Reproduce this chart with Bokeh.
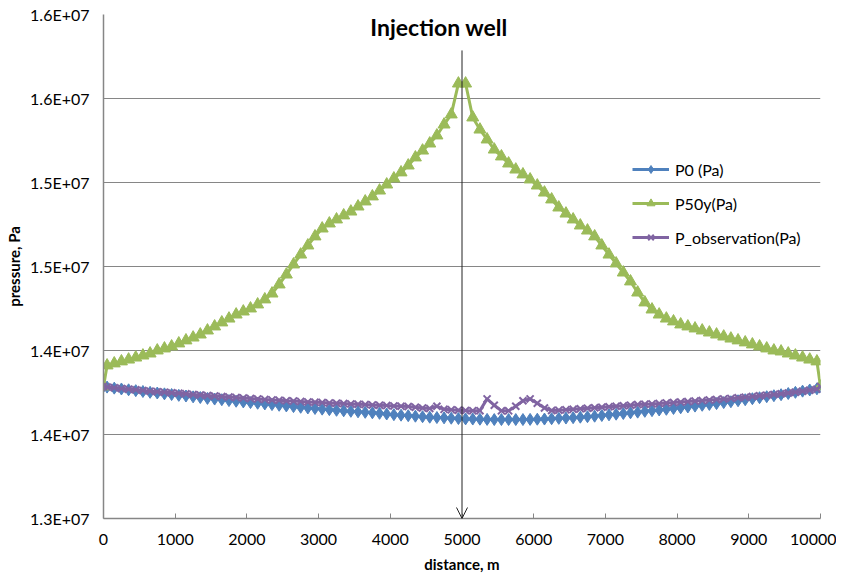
import numpy as np
from bokeh.plotting import figure
from bokeh.models import (ColumnDataSource, Range1d, FixedTicker, Legend,
                          LegendItem, Arrow, OpenHead, Label)
from bokeh.embed import file_html
from bokeh.resources import INLINE

# ---------------- data ----------------
distance = [0, 50, 150, 250, 350, 450, 550, 650, 750, 850, 950,
            1050, 1150, 1250, 1350, 1450, 1550, 1650, 1750, 1850, 1950,
            2050, 2150, 2250, 2350, 2450, 2550, 2650, 2750, 2850, 2950,
            3050, 3150, 3250, 3350, 3450, 3550, 3650, 3750, 3850, 3950,
            4050, 4150, 4250, 4350, 4450, 4550, 4650, 4750, 4850, 4950,
            5050, 5150, 5250, 5350, 5450, 5550, 5650, 5750, 5850, 5950,
            6050, 6150, 6250, 6350, 6450, 6550, 6650, 6750, 6850, 6950,
            7050, 7150, 7250, 7350, 7450, 7550, 7650, 7750, 7850, 7950,
            8050, 8150, 8250, 8350, 8450, 8550, 8650, 8750, 8850, 8950,
            9050, 9150, 9250, 9350, 9450, 9550, 9650, 9750, 9850, 9950, 10000]

p0 = [13786000, 13782000, 13776000, 13771000, 13766000, 13761000, 13756000, 13751000, 13747000, 13742000, 13738000,
      13733000, 13729000, 13724000, 13720000, 13715000, 13711000, 13707000, 13702000, 13698000, 13694000,
      13690000, 13686000, 13682000, 13678000, 13674000, 13670000, 13666000, 13662000, 13658000, 13655000,
      13651000, 13648000, 13644000, 13641000, 13638000, 13635000, 13632000, 13629000, 13626000, 13622000,
      13618000, 13615000, 13612000, 13609000, 13606000, 13603000, 13601000, 13599000, 13597000, 13595000,
      13593000, 13592000, 13591000, 13590000, 13589000, 13589000, 13589000, 13589000, 13589000, 13590000,
      13591000, 13592000, 13594000, 13596000, 13598000, 13600000, 13603000, 13606000, 13609000, 13613000,
      13617000, 13621000, 13625000, 13629000, 13633000, 13638000, 13642000, 13646000, 13650000, 13655000,
      13659000, 13664000, 13669000, 13674000, 13679000, 13684000, 13690000, 13695000, 13701000, 13707000,
      13713000, 13719000, 13725000, 13731000, 13737000, 13744000, 13751000, 13758000, 13765000, 13772000, 13786000]

p50y = [13786000, 13911000, 13923000, 13935000, 13946000, 13958000, 13970000, 13982000, 14000000, 14012000, 14024000,
        14042000, 14060000, 14077000, 14095000, 14119000, 14143000, 14167000, 14190000, 14214000, 14232000,
        14250000, 14274000, 14304000, 14339000, 14393000, 14452000, 14512000, 14571000, 14625000, 14679000,
        14726000, 14756000, 14780000, 14804000, 14827000, 14857000, 14887000, 14917000, 14952000, 14988000,
        15024000, 15060000, 15101000, 15149000, 15190000, 15232000, 15280000, 15345000, 15405000, 15589000,
        15589000, 15387000, 15315000, 15256000, 15196000, 15155000, 15113000, 15077000, 15048000, 15018000,
        14982000, 14940000, 14899000, 14851000, 14815000, 14780000, 14744000, 14714000, 14679000, 14625000,
        14571000, 14518000, 14464000, 14411000, 14345000, 14286000, 14244000, 14214000, 14190000, 14173000,
        14155000, 14143000, 14131000, 14119000, 14107000, 14095000, 14083000, 14071000, 14060000, 14048000,
        14036000, 14024000, 14012000, 14000000, 13994000, 13982000, 13970000, 13958000, 13946000, 13935000, 13786000]

p_obs = [13786000, 13783000, 13778000, 13774000, 13770000, 13766000, 13762000, 13758000, 13755000, 13751000, 13748000,
         13745000, 13742000, 13738000, 13735000, 13732000, 13729000, 13726000, 13723000, 13720000, 13717000,
         13714000, 13712000, 13709000, 13706000, 13704000, 13701000, 13699000, 13697000, 13694000, 13692000,
         13690000, 13688000, 13686000, 13684000, 13682000, 13680000, 13678000, 13676000, 13674000, 13672000,
         13670000, 13668000, 13666000, 13662000, 13658000, 13655000, 13668000, 13650000, 13647000, 13645000,
         13643000, 13642000, 13642000, 13712000, 13674000, 13641000, 13641000, 13668000, 13701000, 13712000,
         13686000, 13658000, 13643000, 13645000, 13647000, 13650000, 13653000, 13656000, 13659000, 13662000,
         13665000, 13668000, 13671000, 13674000, 13678000, 13680000, 13682000, 13685000, 13688000, 13690000,
         13693000, 13696000, 13699000, 13702000, 13705000, 13708000, 13712000, 13715000, 13719000, 13722000,
         13726000, 13730000, 13734000, 13738000, 13742000, 13747000, 13752000, 13758000, 13764000, 13770000, 13786000]

series_names = ["P0 (Pa)", "P50y(Pa)", "P_observation(Pa)"]
x_ticks = [0, 1000, 2000, 3000, 4000, 5000, 6000, 7000, 8000, 9000, 10000]
y_ticks = [13000000, 13500000, 14000000, 14500000, 15000000, 15500000, 16000000]
y_tick_labels = ["1.3E+07", "1.4E+07", "1.4E+07", "1.5E+07", "1.5E+07", "1.6E+07", "1.6E+07"]
x_min, x_max = 0, 10000
y_min, y_max = 13000000, 16000000
well_x = 5000
well_arrow_top = 15786000
well_label = "Injection well"
x_title = "distance, m"
y_title = "pressure, Pa"

# ---------------- styling ----------------
FONT = "Lato"
BLUE = "#4F81BD"
GREEN = "#9BBB59"
PURPLE = "#8064A2"
AXIS_GRAY = "#868686"
TEXT = "#000000"

p = figure(frame_width=717, frame_height=504,
           x_range=Range1d(x_min, x_max), y_range=Range1d(y_min, y_max),
           output_backend="svg", toolbar_location=None,
           min_border_left=103, min_border_right=16,
           min_border_top=14, min_border_bottom=55)
p.outline_line_color = None
p.background_fill_color = "white"
p.border_fill_color = "white"

src = ColumnDataSource(dict(x=distance, p0=p0, p50=p50y, pobs=p_obs))

l0 = p.line("x", "p0", source=src, line_color=BLUE, line_width=3)
m0 = p.scatter("x", "p0", source=src, marker="diamond", size=12,
               fill_color=BLUE, line_color=BLUE)
l1 = p.line("x", "p50", source=src, line_color=GREEN, line_width=3)
m1 = p.scatter("x", "p50", source=src, marker="triangle", size=12,
               fill_color=GREEN, line_color=GREEN)
l2 = p.line("x", "pobs", source=src, line_color=PURPLE, line_width=3)
m2 = p.scatter("x", "pobs", source=src, marker="x", size=10, line_width=2,
               line_color=PURPLE)

# axes
p.xaxis.ticker = FixedTicker(ticks=x_ticks)
p.yaxis.ticker = FixedTicker(ticks=y_ticks)
p.yaxis.major_label_overrides = {t: s for t, s in zip(y_ticks, y_tick_labels)}
for ax in (p.xaxis, p.yaxis):
    ax.axis_line_color = AXIS_GRAY
    ax.axis_line_width = 1.5
    ax.major_tick_line_color = AXIS_GRAY
    ax.major_tick_in = 5
    ax.major_tick_out = 0
    ax.minor_tick_line_color = None
    ax.major_label_text_font = FONT
    ax.major_label_text_font_size = "16px"
    ax.major_label_text_color = TEXT
    ax.axis_label_text_font = FONT
    ax.axis_label_text_font_size = "15px"
    ax.axis_label_text_font_style = "bold"
    ax.axis_label_text_color = TEXT
p.xaxis.major_label_standoff = 15
p.xaxis.axis_label = x_title
p.xaxis.axis_label_standoff = 7
p.yaxis.major_label_standoff = 14
p.yaxis.axis_label = y_title
p.yaxis.axis_label_standoff = 4
p.yaxis.major_tick_line_color = None

p.xgrid.visible = False
p.ygrid.ticker = FixedTicker(ticks=y_ticks)
p.ygrid.grid_line_color = AXIS_GRAY
p.ygrid.grid_line_width = 1

# well arrow and label
p.add_layout(Arrow(end=OpenHead(size=11, line_color="#222222", line_width=1),
                   x_start=well_x, x_end=well_x, y_start=well_arrow_top, y_end=y_min,
                   line_color="#222222", line_width=1))
p.add_layout(Label(x=well_x, y=y_max, x_offset=-23, y_offset=-12,
                   text=well_label, text_align="center", text_baseline="middle",
                   text_font=FONT, text_font_size="23px", text_font_style="bold",
                   text_color=TEXT))

legend = Legend(items=[LegendItem(label=series_names[0], renderers=[l0, m0]),
                       LegendItem(label=series_names[1], renderers=[l1, m1]),
                       LegendItem(label=series_names[2], renderers=[l2, m2])],
                location=(529, 271))
legend.background_fill_alpha = 0
legend.border_line_color = None
legend.glyph_width = 37
legend.glyph_height = 20
legend.label_standoff = 6
legend.spacing = 14
legend.padding = 0
legend.margin = 0
legend.label_text_font = FONT
legend.label_text_font_size = "16px"
legend.label_text_color = TEXT
p.add_layout(legend, "center")

open("out.html", "w").write(file_html(p, INLINE))
